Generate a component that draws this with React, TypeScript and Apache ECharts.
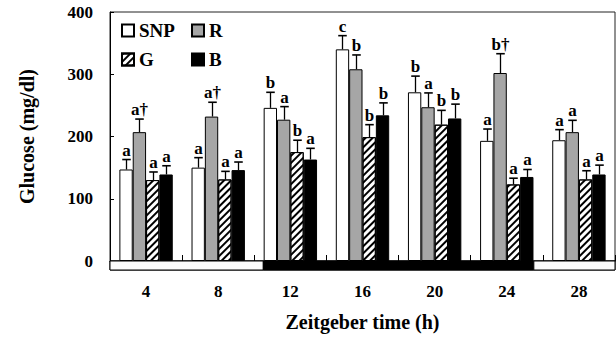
import React, { useEffect, useRef } from 'react';
import * as echarts from 'echarts';

const categories = ['4', '8', '12', '16', '20', '24', '28'];
const seriesNames = ['SNP', 'R', 'G', 'B'];
const snpValues = [147, 150, 246, 340, 271, 193, 194];
const snpErrors = [16, 16, 25, 22, 26, 19, 17];
const rValues = [207, 232, 227, 308, 247, 302, 207];
const rErrors = [21, 23, 21, 23, 23, 31, 19];
const gValues = [130, 131, 175, 199, 219, 123, 131];
const gErrors = [13, 13, 19, 20, 23, 10, 14];
const bValues = [139, 146, 163, 234, 229, 135, 139];
const bErrors = [14, 13, 18, 20, 23, 12, 15];
const snpLetters = ['a', 'a', 'b', 'c', 'b', 'a', 'a'];
const rLetters = ['a†', 'a†', 'a', 'b', 'a', 'b†', 'a'];
const gLetters = ['a', 'a', 'b', 'b', 'b', 'a', 'a'];
const bLetters = ['a', 'a', 'a', 'b', 'b', 'a', 'a'];
// light/dark periods (hours on the Zeitgeber scale)
const periodStarts = [2, 10.5, 25.5];
const periodEnds = [10.5, 25.5, 30];
const periodDark = [0, 1, 0];

const FONT = '"Liberation Serif", "Times New Roman", serif';
const CAT_GAP = 0.26;

export default function App() {
  const ref = useRef<HTMLDivElement>(null);
  useEffect(() => {
    document.body.style.margin = '0';
    const chart = echarts.init(ref.current!, null, { renderer: 'svg' });

    const makeErr = (idx: number, vals: number[], errs: number[], letters: string[]) => ({
      type: 'custom',
      xAxisIndex: 0,
      yAxisIndex: 0,
      z: 5,
      silent: true,
      data: vals.map((v, i) => [i, v, errs[i]]),
      renderItem: (params: any, api: any) => {
        const ci = api.value(0);
        const v = api.value(1);
        const e = api.value(2);
        const band = api.size([1, 0])[0];
        const barW = (band * (1 - CAT_GAP)) / 4;
        const base = api.coord([ci, v]);
        const top = api.coord([ci, v + e]);
        const x = Math.round(base[0] + (idx - 1.5) * barW) + 0.5;
        const capHalf = barW * 0.32;
        return {
          type: 'group',
          children: [
            { type: 'line', shape: { x1: x, y1: base[1], x2: x, y2: top[1] }, style: { stroke: '#000', lineWidth: 1.3 } },
            { type: 'line', shape: { x1: x - capHalf, y1: top[1], x2: x + capHalf, y2: top[1] }, style: { stroke: '#000', lineWidth: 1.6 } },
            {
              type: 'text',
              x: x,
              y: top[1] - 1,
              style: {
                text: letters[params.dataIndex],
                align: 'center',
                verticalAlign: 'bottom',
                fontFamily: FONT,
                fontWeight: 'bold',
                fontSize: 17,
                fill: '#000',
              },
            },
          ],
        };
      },
    });

    const barBase = { type: 'bar', barGap: '0%', barCategoryGap: CAT_GAP * 100 + '%', xAxisIndex: 0, yAxisIndex: 0 };
    const legendBase = {
      padding: 0,
      itemWidth: 12,
      itemHeight: 12,
      itemGap: 0,
      icon: 'rect',
      textStyle: { fontFamily: FONT, fontWeight: 'bold', fontSize: 19, color: '#000' },
    };

    chart.setOption({
      animation: false,
      grid: [
        { left: 110, right: 1, top: 12, bottom: 78, show: true, borderColor: '#222', borderWidth: 1 },
        { left: 110, right: 1, top: 261, height: 9, show: true, borderColor: '#000', borderWidth: 1 },
      ],
      legend: [
        { ...legendBase, data: [seriesNames[0]], left: 121, top: 21 },
        { ...legendBase, data: [seriesNames[1]], left: 191, top: 21 },
        { ...legendBase, data: [seriesNames[2]], left: 121, top: 50 },
        { ...legendBase, data: [seriesNames[3]], left: 191, top: 50 },
      ],
      xAxis: [
        {
          type: 'category',
          gridIndex: 0,
          data: categories,
          axisLine: { show: true, lineStyle: { color: '#000' } },
          axisTick: { show: true, inside: true, length: 6, lineStyle: { color: '#000' } },
          axisLabel: { margin: 22, fontFamily: FONT, fontWeight: 'bold', fontSize: 17, color: '#000' },
          name: 'Zeitgeber time (h)',
          nameLocation: 'middle',
          nameGap: 51,
          nameTextStyle: { fontFamily: FONT, fontWeight: 'bold', fontSize: 20, color: '#000' },
        },
        { type: 'value', gridIndex: 1, min: 2, max: 30, show: false },
      ],
      yAxis: [
        {
          type: 'value',
          gridIndex: 0,
          min: 0,
          max: 400,
          interval: 100,
          splitLine: { show: false },
          axisLine: { show: true, lineStyle: { color: '#000' } },
          axisTick: { show: true, inside: true, length: 4, lineStyle: { color: '#000' } },
          axisLabel: { margin: 17, fontFamily: FONT, fontWeight: 'bold', fontSize: 17, color: '#000' },
          name: 'Glucose (mg/dl)',
          nameLocation: 'middle',
          nameGap: 73,
          nameTextStyle: { fontFamily: FONT, fontWeight: 'bold', fontSize: 20, color: '#000' },
        },
        { type: 'value', gridIndex: 1, min: 0, max: 1, show: false },
      ],
      series: [
        { ...barBase, name: 'SNP', data: snpValues, itemStyle: { color: '#fff', borderColor: '#000', borderWidth: 1 } },
        { ...barBase, name: 'R', data: rValues, itemStyle: { color: '#a6a6a6', borderColor: '#000', borderWidth: 1 } },
        {
          ...barBase,
          name: 'G',
          data: gValues,
          itemStyle: {
            color: '#fff',
            borderColor: '#000',
            borderWidth: 1,
            decal: { symbol: 'rect', symbolSize: 1, dashArrayX: [1, 0], dashArrayY: [2, 2.5], rotation: -Math.PI / 4, color: '#000' },
          },
        },
        { ...barBase, name: 'B', data: bValues, itemStyle: { color: '#000', borderColor: '#000', borderWidth: 1 } },
        makeErr(0, snpValues, snpErrors, snpLetters),
        makeErr(1, rValues, rErrors, rLetters),
        makeErr(2, gValues, gErrors, gLetters),
        makeErr(3, bValues, bErrors, bLetters),
        {
          type: 'custom',
          xAxisIndex: 1,
          yAxisIndex: 1,
          silent: true,
          data: periodStarts.map((s, i) => [s, periodEnds[i], periodDark[i]]),
          renderItem: (params: any, api: any) => {
            const s = api.coord([api.value(0), 1]);
            const e = api.coord([api.value(1), 0]);
            const dark = api.value(2) === 1;
            return {
              type: 'rect',
              shape: { x: s[0], y: s[1], width: e[0] - s[0], height: e[1] - s[1] },
              style: { fill: dark ? '#000' : '#fbfbfb', stroke: '#000', lineWidth: 1 },
            };
          },
        },
      ],
    });
    return () => chart.dispose();
  }, []);
  return <div ref={ref} style={{ width: 616, height: 339 }} />;
}
